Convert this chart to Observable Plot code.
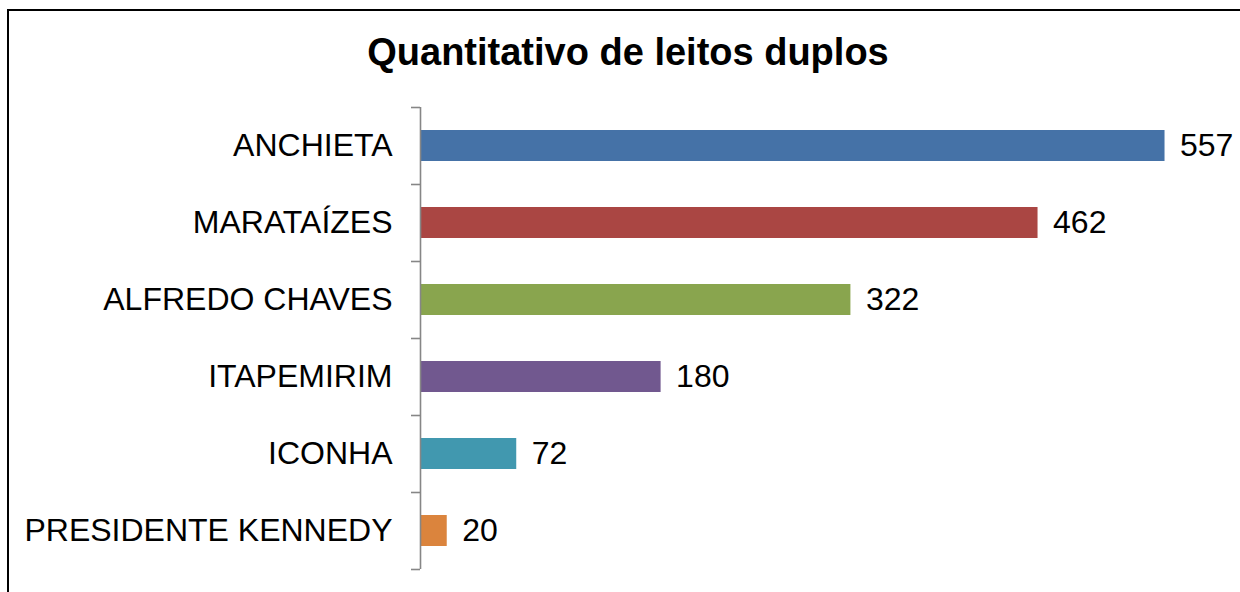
<!DOCTYPE html>
<html>
<head>
<meta charset="utf-8">
<script src="https://cdn.jsdelivr.net/npm/d3@7"></script>
<script src="https://cdn.jsdelivr.net/npm/@observablehq/plot@0.6"></script>
<style>
  html, body { margin: 0; padding: 0; overflow: hidden; background: #fff; width: 1240px; height: 592px; }
  body { position: relative; font-family: "Liberation Sans", Arial, sans-serif; }
  #frame { position: absolute; left: 7px; top: 9px; width: 1300px; height: 700px; border: 2px solid #000; box-sizing: border-box; }
  #title { position: absolute; left: 0; width: 1256px; top: 29px; text-align: center; font-weight: bold; font-size: 38px; color: #000; line-height: 46px; }
  #chart { position: absolute; left: 0; top: 0; }
</style>
</head>
<body>
<div id="frame"></div>
<div id="title">Quantitativo de leitos duplos</div>
<div id="chart"></div>
<script>
const categories = ["ANCHIETA", "MARATAÍZES", "ALFREDO CHAVES", "ITAPEMIRIM", "ICONHA", "PRESIDENTE KENNEDY"];
const values = [557, 462, 322, 180, 72, 20];
const colors = ["#4572A7", "#AA4643", "#89A54E", "#71588F", "#4198AF", "#DB843D"];

const data = categories.map((c, i) => ({category: c, value: values[i], color: colors[i]}));

const W = 1240, H = 592;
const mTop = 107, mBottom = 23, mLeft = 420, mRight = 18;
const xMax = 600;
const pxPerUnit = (W - mLeft - mRight) / xMax;
const step = (H - mTop - mBottom) / categories.length;
const tickLen = 9 / pxPerUnit;

const chart = Plot.plot({
  width: W,
  height: H,
  marginTop: mTop,
  marginBottom: mBottom,
  marginLeft: mLeft,
  marginRight: mRight,
  style: {fontFamily: "'Liberation Sans', Arial, sans-serif", background: "transparent", overflow: "visible"},
  x: {domain: [0, xMax], axis: null},
  y: {domain: categories, paddingInner: 0.6, paddingOuter: 0.3, label: null},
  marks: [
    Plot.barX(data, {x: "value", y: "category", fill: d => d.color}),
    Plot.ruleX([0], {stroke: "#868686", strokeWidth: 1.6}),
    Plot.ruleY(categories, {y: d => d, x1: -tickLen, x2: 0, dy: -step / 2, stroke: "#868686", strokeWidth: 1.6}),
    Plot.ruleY(categories.slice(-1), {y: d => d, x1: -tickLen, x2: 0, dy: step / 2, stroke: "#868686", strokeWidth: 1.6}),
    Plot.text(data, {x: "value", y: "category", text: d => String(d.value), textAnchor: "start", dx: 15, fontSize: 32, fill: "#000"}),
    Plot.axisY({tickSize: 0, tickPadding: 28, fontSize: 32, fill: "#000", label: null})
  ]
});
document.getElementById("chart").appendChild(chart);
</script>
</body>
</html>
